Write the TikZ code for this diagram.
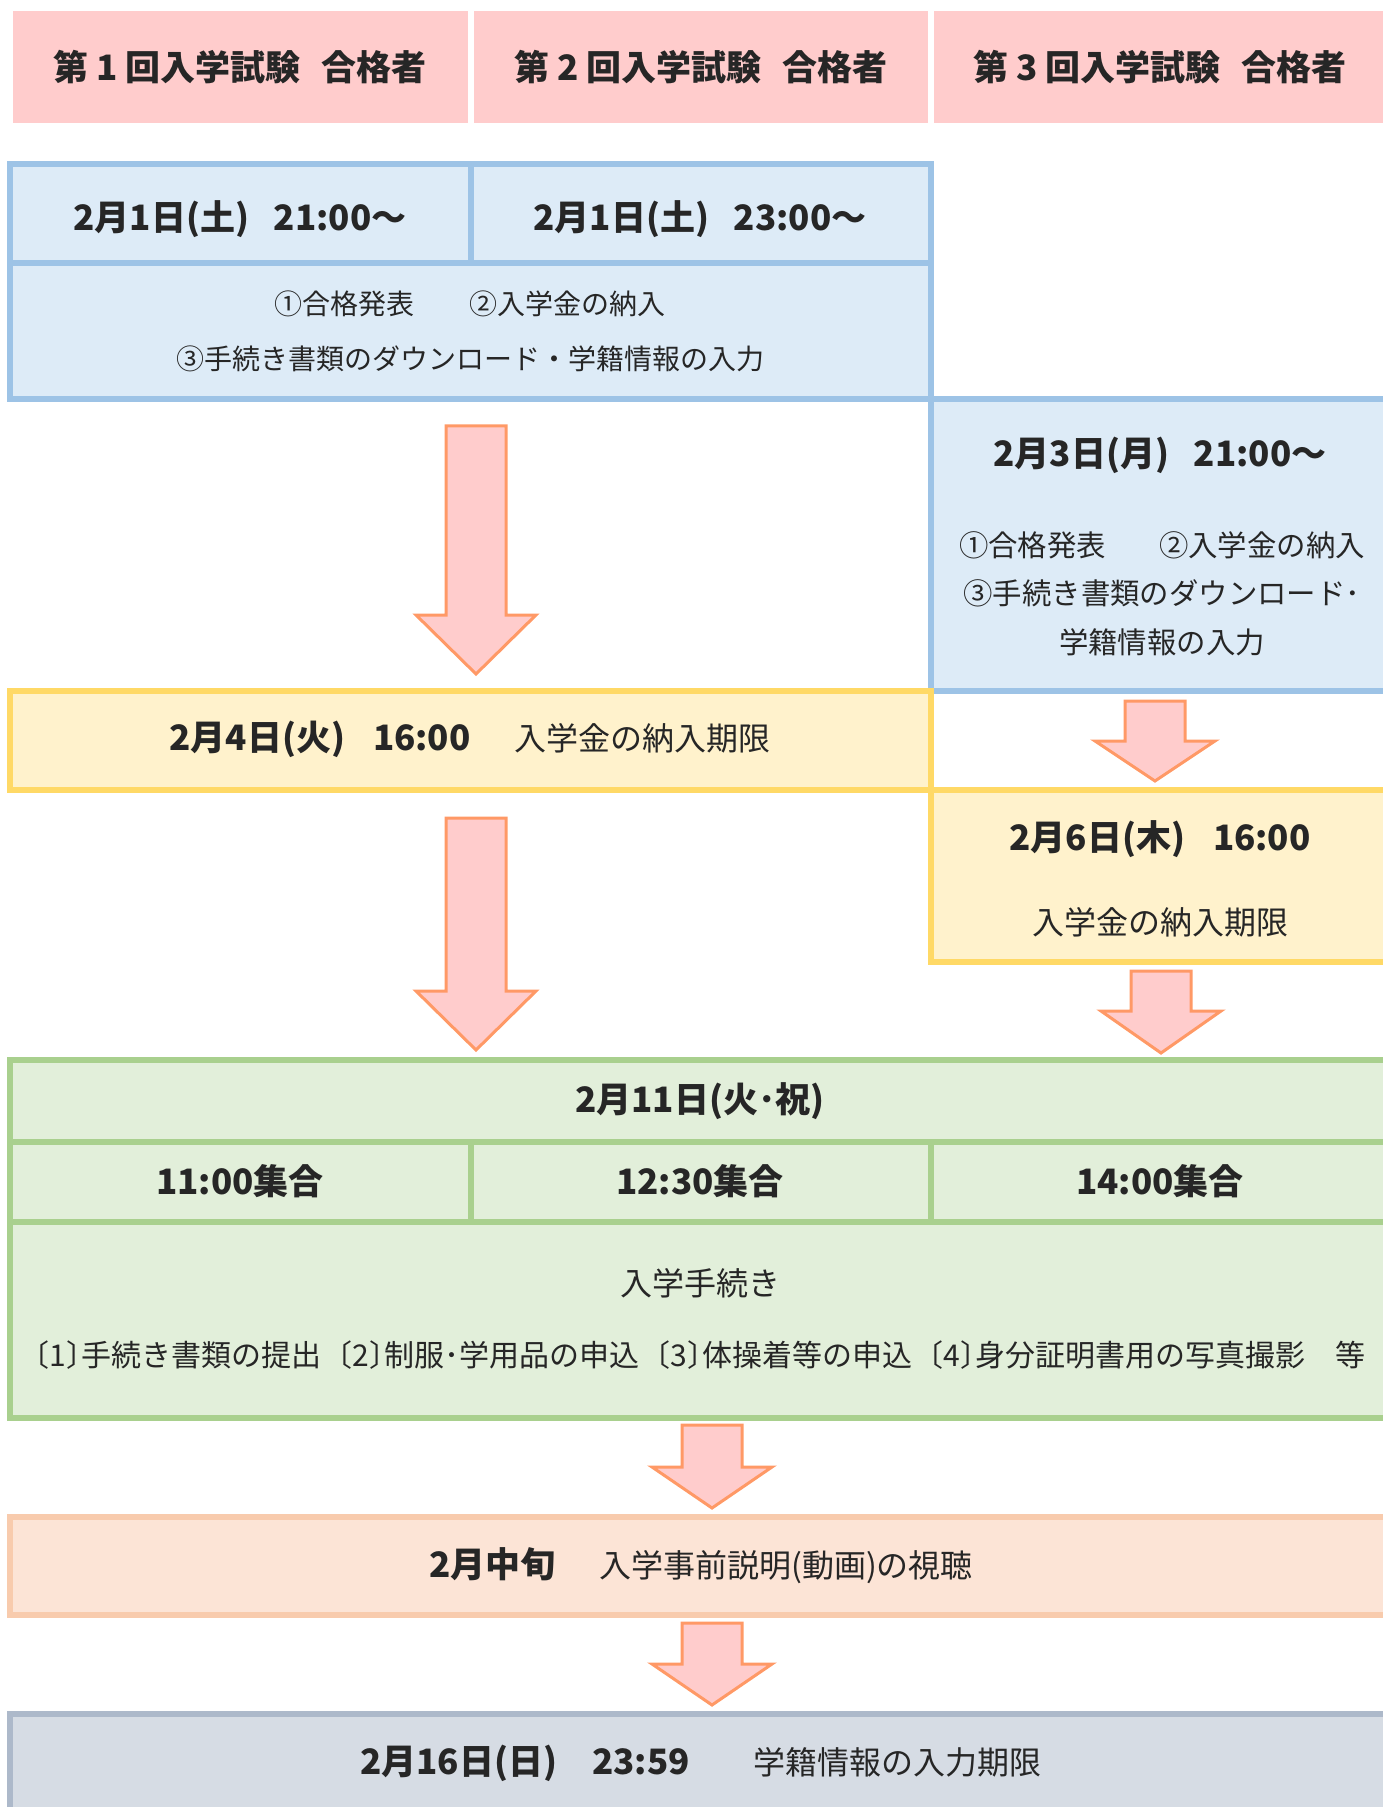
\documentclass[tikz,border=0pt]{standalone}
\usepackage{fontspec}
\setmainfont{Noto Sans CJK JP}
\usepackage{tikz}

\definecolor{hdpink}{HTML}{FFCCCC}
\definecolor{bluefill}{HTML}{DDEBF7}
\definecolor{blueline}{HTML}{9DC3E6}
\definecolor{yelfill}{HTML}{FFF2CC}
\definecolor{yelline}{HTML}{FFD966}
\definecolor{grnfill}{HTML}{E2EFDA}
\definecolor{grnline}{HTML}{A9D08E}
\definecolor{orgfill}{HTML}{FCE4D6}
\definecolor{orgline}{HTML}{F8CBAD}
\definecolor{gryfill}{HTML}{D6DCE4}
\definecolor{gryline}{HTML}{ADB9CA}
\definecolor{arrfill}{HTML}{FFCCCC}
\definecolor{arrline}{HTML}{FF9966}
\definecolor{txtgray}{HTML}{262626}

\newcommand{\downblock}[4]{%
  \draw[blockarrow] (#1-30,#2) -- (#1+30,#2) -- (#1+30,#3) -- (#1+60,#3)
    -- (#1,#4) -- (#1-60,#3) -- (#1-30,#3) -- cycle;}
\newcommand{\obrk}{\makebox[0.5em][r]{〔}}
\newcommand{\cbrk}{\makebox[0.5em][l]{〕}}
\newcommand{\plainpart}[1]{{\mdseries\fontsize{16pt}{19pt}\selectfont #1}}

\begin{document}
\begin{tikzpicture}[x=0.5pt,y=-0.5pt,
  datetxt/.style={text=txtgray, inner sep=0pt, font=\fontsize{17.5pt}{21pt}\selectfont\bfseries},
  bodytxt/.style={text=txtgray, inner sep=0pt, align=center, font=\fontsize{14pt}{27.5pt}\selectfont},
  plaintxt/.style={text=txtgray, inner sep=0pt, font=\fontsize{16pt}{19pt}\selectfont},
  cell/.style={line width=3pt},
  blockarrow/.style={fill=arrfill, draw=arrline, line width=1.5pt, line join=miter}]

  \useasboundingbox (0,0) rectangle (1382,1807);

  % header
  \fill[hdpink] (13,11) rectangle (468,123);
  \fill[hdpink] (474,11) rectangle (928,123);
  \fill[hdpink] (934,11) rectangle (1400,123);
  \node[datetxt] (h1) at (240,67) {第 1 回入学試験\hspace{0.6em}合格者};
  \node[datetxt] (h2) at (701,67) {第 2 回入学試験\hspace{0.6em}合格者};
  \node[datetxt] (h3) at (1160,67) {第 3 回入学試験\hspace{0.6em}合格者};

  % first and second exam
  \draw[cell, draw=blueline, fill=bluefill] (10,164.5) rectangle (931,399);
  \draw[cell, draw=blueline] (10,263.5) -- (931,263.5);
  \draw[cell, draw=blueline] (470.5,164.5) -- (470.5,263.5);
  \node[datetxt] (d1) at (240,219) {2月1日(土)\hspace{0.7em}21:00～};
  \node[datetxt] (d2) at (700,219) {2月1日(土)\hspace{0.7em}23:00～};
  \node[bodytxt] (s1) at (470,331.5) {①合格発表\hspace{2em}②入学金の納入\\③手続き書類のダウンロード・学籍情報の入力};

  % third exam
  \draw[cell, draw=blueline, fill=bluefill] (931,399) rectangle (1400,690.5);
  \node[datetxt] (d3) at (1160,455) {2月3日(月)\hspace{0.7em}21:00～};
  \node[bodytxt, font=\fontsize{14.7pt}{24.25pt}\selectfont] (s3) at (1162,593.5) {①合格発表\hspace{1.8em}②入学金の納入\\③手続き書類のダウンロード･\\学籍情報の入力};

  \draw[cell, draw=yelline, fill=yelfill] (10,690.5) rectangle (931,790);
  \node[datetxt] (y1) at (470,739) {2月4日(火)\hspace{0.8em}16:00\hspace{22pt}\plainpart{入学金の納入期限}};

  \draw[cell, draw=yelline, fill=yelfill] (931,790) rectangle (1400,961.5);
  \node[datetxt] (y3) at (1160,839) {2月6日(木)\hspace{0.8em}16:00};
  \node[plaintxt] (y3b) at (1160,922) {入学金の納入期限};

  \downblock{476}{426}{615}{674}
  \downblock{476}{818}{991}{1050}
  \downblock{1155}{701}{741}{781}
  \downblock{1161}{971}{1011}{1053}

  % procedure day
  \draw[cell, draw=grnline, fill=grnfill] (10,1060) rectangle (1400,1418);
  \draw[cell, draw=grnline] (10,1142) -- (1400,1142);
  \draw[cell, draw=grnline] (10,1222) -- (1400,1222);
  \draw[cell, draw=grnline] (470.5,1142) -- (470.5,1222);
  \draw[cell, draw=grnline] (931,1142) -- (931,1222);
  \node[datetxt] (g0) at (700,1101) {2月11日(火･祝)};
  \node[datetxt] (g1) at (240,1181) {11:00集合};
  \node[datetxt] (g2) at (700,1181) {12:30集合};
  \node[datetxt] (g3) at (1160,1181) {14:00集合};
  \node[plaintxt] (g4) at (700,1283) {入学手続き};
  \node[plaintxt, font=\fontsize{15pt}{18pt}\selectfont] (g5) at (700,1355) {\obrk 1\cbrk 手続き書類の提出\hspace{0.55em}\obrk 2\cbrk 制服･学用品の申込\hspace{0.55em}\obrk 3\cbrk 体操着等の申込\hspace{0.55em}\obrk 4\cbrk 身分証明書用の写真撮影　等};

  \downblock{712}{1425}{1467}{1508}

  \draw[cell, draw=orgline, fill=orgfill] (10,1517) rectangle (1400,1615);
  \node[datetxt] (o1) at (701,1566) {2月中旬\hspace{22pt}\plainpart{入学事前説明(動画)の視聴}};

  \downblock{712}{1623}{1664}{1705}

  \draw[cell, draw=gryline, fill=gryfill] (10,1714) rectangle (1400,1840);
  \node[datetxt] (k1) at (701,1763) {2月16日(日)\hspace{1em}23:59\hspace{32pt}\plainpart{学籍情報の入力期限}};

\end{tikzpicture}
\end{document}
